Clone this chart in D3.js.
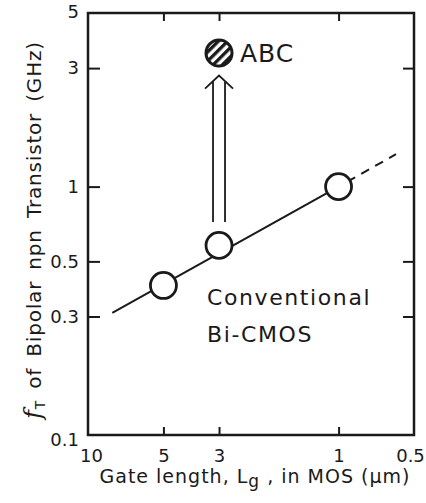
<!DOCTYPE html>
<html>
<head>
<meta charset="utf-8">
<script src="https://cdn.jsdelivr.net/npm/d3@7"></script>
<style>
  body { margin: 0; background: #fff; }
  text { font-family: "DejaVu Sans", sans-serif; fill: #1a1a1a; }
</style>
</head>
<body>
<div id="vis"></div>
<script>
// data
const gateLength = [5, 3, 1];            // um
const ftConventional = [0.4, 0.58, 1.0]; // GHz
const trendSolid = [[8, 0.31], [1, 1.0]];
const trendDashed = [[1, 1.0], [0.59, 1.35]];
const abcPoint = [3, 3.45];
const arrowFromTo = [[3, 0.72], [3, 2.8]];

const xTicks = [10, 5, 3, 1, 0.5];
const yTicks = [0.1, 0.3, 0.5, 1, 3, 5];

let W = 426, H = 503;
let margin = { top: 13, left: 88, right: 12, bottom: 68 };
let width = W - margin.left - margin.right;
let height = H - margin.top - margin.bottom;

let svg = d3.select('#vis')
  .append('svg')
    .attr('width', W)
    .attr('height', H);

let defs = svg.append('defs');
let pat = defs.append('pattern')
    .attr('id', 'hatch')
    .attr('patternUnits', 'userSpaceOnUse')
    .attr('width', 6.5)
    .attr('height', 6.5)
    .attr('patternTransform', 'rotate(-45)');
pat.append('rect').attr('width', 6.5).attr('height', 6.5).attr('fill', '#fff');
pat.append('rect').attr('width', 6.5).attr('height', 3.3).attr('fill', '#1a1a1a');

let g = svg.append('g')
  .attr('transform', 'translate(' + margin.left + ',' + margin.top + ')');

// log scales, x reversed
let xScale = d3.scaleLog()
  .domain([10, 0.5])
  .range([0, width]);

let yScale = d3.scaleLog()
  .domain([0.1, 5])
  .range([height, 0]);

const fmt = d => String(d);

// left axis, inward ticks
let yAxisL = g.append('g')
  .call(d3.axisLeft(yScale).tickValues(yTicks).tickFormat(fmt).tickSizeInner(-12).tickSizeOuter(0).tickPadding(9));
// right axis, inward ticks, no labels
let yAxisR = g.append('g')
  .attr('transform', `translate(${width},0)`)
  .call(d3.axisRight(yScale).tickValues([0.3, 0.5, 1, 3]).tickFormat('').tickSizeInner(-11).tickSizeOuter(0));
// bottom axis
let xAxisB = g.append('g')
  .attr('transform', `translate(0,${height})`)
  .call(d3.axisBottom(xScale).tickValues(xTicks).tickFormat(fmt).tickSizeInner(-8).tickSizeOuter(0).tickPadding(14));
// top axis
let xAxisT = g.append('g')
  .call(d3.axisTop(xScale).tickValues([5, 3, 1]).tickFormat('').tickSizeInner(-8).tickSizeOuter(0));

[yAxisL, yAxisR, xAxisB, xAxisT].forEach(a => {
  a.select('.domain').remove();
  a.selectAll('line').attr('stroke', '#1a1a1a').attr('stroke-width', 2);
  a.selectAll('text')
    .style('font-family', '"DejaVu Sans", sans-serif')
    .style('font-size', '18px')
    .attr('fill', '#1a1a1a');
});
// corner ticks not needed
yAxisL.selectAll('.tick').filter(d => d === 0.1 || d === 5).select('line').remove();
xAxisB.selectAll('.tick').filter(d => d === 10 || d === 0.5).select('line').remove();
yAxisL.selectAll('.tick').filter(d => d === 0.1).select('text').attr('dy', '0.6em');
yAxisL.selectAll('.tick').filter(d => d === 5).select('text').attr('dy', '0.25em');
xAxisB.selectAll('.tick').filter(d => d === 0.5).select('text').attr('dx', '-4');
xAxisB.selectAll('.tick').filter(d => d === 10).select('text').attr('dx', '3');

// frame
g.append('rect')
  .attr('width', width)
  .attr('height', height)
  .attr('fill', 'none')
  .attr('stroke', '#1a1a1a')
  .attr('stroke-width', 2.5);

let line = d3.line()
  .x(d => xScale(d[0]))
  .y(d => yScale(d[1]));

g.append('path')
  .attr('d', line(trendSolid))
  .attr('fill', 'none')
  .attr('stroke', '#1a1a1a')
  .attr('stroke-width', 2);

g.append('path')
  .attr('d', line(trendDashed))
  .attr('fill', 'none')
  .attr('stroke', '#1a1a1a')
  .attr('stroke-width', 2)
  .attr('stroke-dasharray', '9,7')
  .attr('stroke-dashoffset', -10);

// open circles
g.selectAll('circle.pt')
  .data(gateLength.map((x, i) => [x, ftConventional[i]]))
  .enter().append('circle')
    .attr('class', 'pt')
    .attr('cx', d => xScale(d[0]))
    .attr('cy', d => yScale(d[1]))
    .attr('r', 13)
    .attr('fill', '#fff')
    .attr('stroke', '#1a1a1a')
    .attr('stroke-width', 2.8);

// hollow arrow
let ax = xScale(arrowFromTo[0][0]);
let ay0 = yScale(arrowFromTo[0][1]);
let ay1 = yScale(arrowFromTo[1][1]);
let arrow = g.append('g')
  .attr('fill', 'none')
  .attr('stroke', '#1a1a1a')
  .attr('stroke-width', 1.8);
arrow.append('line').attr('x1', ax - 6).attr('x2', ax - 6).attr('y1', ay0).attr('y2', ay1 + 6);
arrow.append('line').attr('x1', ax + 6).attr('x2', ax + 6).attr('y1', ay0).attr('y2', ay1 + 6);
arrow.append('path')
  .attr('d', `M${ax - 14},${ay1 + 13} L${ax},${ay1} L${ax + 14},${ay1 + 13}`);

// hatched ABC point
g.append('circle')
  .attr('cx', xScale(abcPoint[0]))
  .attr('cy', yScale(abcPoint[1]))
  .attr('r', 13)
  .attr('fill', 'url(#hatch)')
  .attr('stroke', '#1a1a1a')
  .attr('stroke-width', 3);

g.append('text')
  .attr('x', xScale(abcPoint[0]) + 21)
  .attr('y', yScale(abcPoint[1]) + 9)
  .style('font-size', '25px')
  .style('letter-spacing', '1px')
  .text('ABC');

// annotation
g.append('text')
  .attr('x', 207 - margin.left)
  .attr('y', 305 - margin.top)
  .style('font-size', '22px')
  .style('letter-spacing', '1.6px')
  .text('Conventional');
g.append('text')
  .attr('x', 207 - margin.left)
  .attr('y', 342 - margin.top)
  .style('font-size', '22px')
  .style('letter-spacing', '1.6px')
  .text('Bi-CMOS');

// axis titles
svg.append('text')
  .attr('x', 255)
  .attr('y', 483)
  .attr('text-anchor', 'middle')
  .style('font-size', '19px')
  .style('letter-spacing', '1px')
  .html('Gate length, L<tspan baseline-shift="-25%" font-size="17px">g</tspan> ,  in MOS (\u00b5m)');

svg.append('text')
  .attr('transform', 'translate(41,230) rotate(-90)')
  .attr('text-anchor', 'middle')
  .style('font-size', '20px')
  .style('letter-spacing', '0.8px')
  .style('word-spacing', '4px')
  .html('<tspan font-family="DejaVu Serif" font-style="italic" font-size="24px">f</tspan><tspan baseline-shift="-30%" font-size="14px">T</tspan> of Bipolar npn Transistor (GHz)');
</script>
</body>
</html>
